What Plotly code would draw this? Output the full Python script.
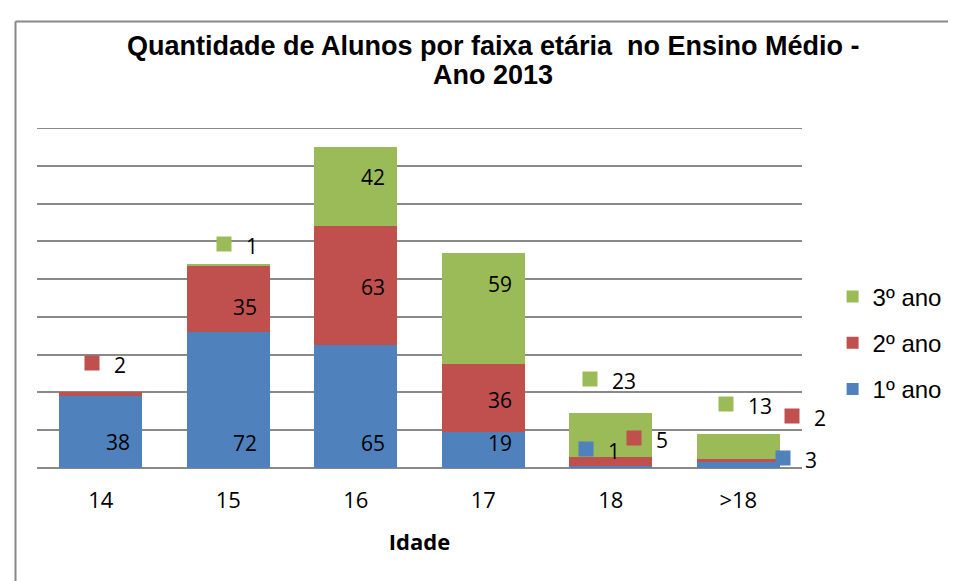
import plotly.graph_objects as go

# ---- data ----
categories = ["14", "15", "16", "17", "18", ">18"]
ano1 = [38, 72, 65, 19, 1, 3]
ano2 = [2, 35, 63, 36, 5, 2]
ano3 = [0, 1, 42, 59, 23, 13]
series_names = ["1º ano", "2º ano", "3º ano"]
series_colors = ["#4F81BD", "#C0504D", "#9BBB59"]
title_lines = ["Quantidade de Alunos por faixa etária  no Ensino Médio -", "Ano 2013"]
x_title = "Idade"

# ---- label placement (pixel nudges relative to the segment centre) ----
# ("in", up) : inside bar, right aligned ; ("key", dx, up) : outside with legend key ; None : no label
label_place = [
    [("in", -10), ("in", -43), ("in", -36), ("in", 7), ("key", -25, 18), ("key", 45, 7)],
    [("key", -9, 31), ("in", -8), ("in", -1), ("in", -2), ("key", 23, 23), ("key", 54, 44)],
    [None, ("key", -4, 21), ("in", 10), ("in", 24), ("key", -21, 56), ("key", -12, 42)],
]

series_vals = [ano1, ano2, ano3]
LABEL_FONT = dict(family="Open Sans, Liberation Sans", size=21, color="black")
TITLE_FONT = dict(family="Liberation Sans, Arial", size=27, color="black")

fig = go.Figure()
n_series = len(series_names)
for k, (name, vals, col) in enumerate(zip(series_names, series_vals, series_colors)):
    fig.add_trace(go.Bar(
        x=categories, y=vals, name=name, marker_color=col,
        marker_line_width=0, width=0.65, legendgroup=name,
        legendrank=1000 + (n_series - k),
    ))

annotations = []
base = [0] * len(categories)
for s, vals in enumerate(series_vals):
    for i, v in enumerate(vals):
        place = label_place[s][i]
        centre = base[i] + v / 2
        if place is not None:
            if place[0] == "in":
                annotations.append(dict(
                    x=i, y=centre, xref="x", yref="y", text=str(v),
                    showarrow=False, xanchor="right", yanchor="middle",
                    xshift=31, yshift=place[1], font=LABEL_FONT))
            else:
                dx, up = place[1], place[2]
                annotations.append(dict(
                    x=i, y=centre, xref="x", yref="y", text=" ",
                    showarrow=False, xanchor="center", yanchor="middle",
                    xshift=dx, yshift=up, width=14, height=14, borderpad=0,
                    bgcolor=series_colors[s], font=dict(size=4)))
                annotations.append(dict(
                    x=i, y=centre, xref="x", yref="y", text=str(v),
                    showarrow=False, xanchor="left", yanchor="middle",
                    xshift=dx + 20, yshift=up - 2, font=LABEL_FONT))
        base[i] += v

GRID = "#898989"
Y_MAX = 180
# page body adds an 8px offset, so margins are reduced by 8px
ML, MT, PW, PH = 29, 120, 765, 340
TITLE_X = (493 - 37) / PW

# title, drawn as two centred lines
annotations.append(dict(
    x=TITLE_X, y=1 + (128 - 46) / PH, xref="paper", yref="paper",
    text="<b>" + title_lines[0] + "</b>", showarrow=False,
    xanchor="center", yanchor="middle", font=TITLE_FONT))
annotations.append(dict(
    x=TITLE_X, y=1 + (128 - 75) / PH, xref="paper", yref="paper",
    text="<b>" + title_lines[1] + "</b>", showarrow=False,
    xanchor="center", yanchor="middle", font=TITLE_FONT))

fig.update_layout(
    width=956, height=581,
    margin=dict(l=ML, r=956 - ML - PW, t=MT, b=581 - MT - PH, autoexpand=False),
    paper_bgcolor="white", plot_bgcolor="white",
    barmode="stack", bargap=0.35,
    legend=dict(
        x=1.040, xanchor="left", y=0.368, yanchor="middle",
        traceorder="grouped", tracegroupgap=12,
        font=dict(family="Liberation Sans, Arial", size=24, color="black"),
        bgcolor="rgba(0,0,0,0)",
    ),
    xaxis=dict(
        type="category", range=[-0.5, 5.5], automargin=False,
        title=dict(text="<b>" + x_title + "</b>", standoff=21,
                   font=dict(family="Open Sans, Liberation Sans", size=22, color="black")),
        tickfont=dict(family="Open Sans, Liberation Sans", size=22, color="black"),
        showline=False, ticks="", ticklabelstandoff=17, showgrid=False,
    ),
    yaxis=dict(
        range=[0, Y_MAX], dtick=20, showticklabels=False, ticks="", automargin=False,
        showgrid=True, gridcolor=GRID, gridwidth=2,
        zeroline=True, zerolinecolor=GRID, zerolinewidth=2, showline=False,
    ),
    annotations=annotations,
    shapes=[
        dict(type="line", xref="paper", yref="y", x0=0, x1=1, y0=Y_MAX, y1=Y_MAX,
             line=dict(color=GRID, width=2), layer="below"),
        dict(type="line", xref="paper", yref="paper",
             x0=-21.5 / PW, x1=-21.5 / PW,
             y0=1 + 106.5 / PH, y1=-0.6, line=dict(color="#888888", width=2)),
        dict(type="line", xref="paper", yref="paper",
             x0=-21.5 / PW, x1=1.5,
             y0=1 + 106.5 / PH, y1=1 + 106.5 / PH, line=dict(color="#888888", width=2)),
    ],
    showlegend=True,
)

fig.write_html("out.html")
